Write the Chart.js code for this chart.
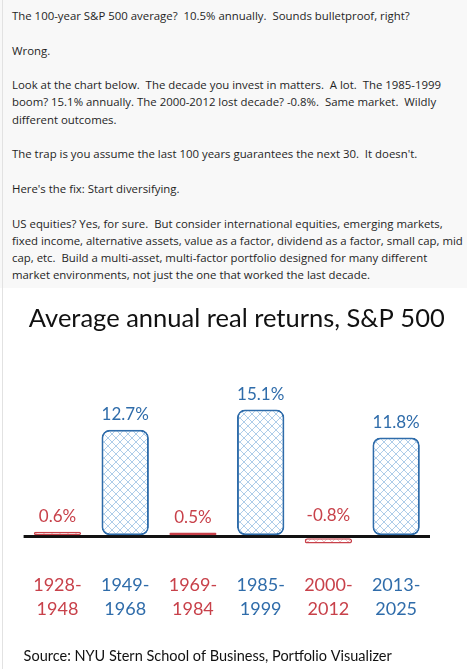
<!DOCTYPE html>
<html>
<head>
<meta charset="utf-8">
<script src="https://cdn.jsdelivr.net/npm/chart.js@4"></script>
<style>
  html, body { margin: 0; padding: 0; background: #fff; }
  body { width: 467px; height: 669px; overflow: hidden; position: relative; }
  .edge { position: absolute; left: 2px; top: 0; width: 1px; height: 669px; background: #e2e2e2; }
  .post {
    width: 467px; height: 288px; box-sizing: border-box; background: #f8f8f8;
    padding: 7px 0 0 12px;
    font: 11.4px/17.3px "Open Sans", sans-serif; color: #1f1f1f;
  }
  .post p { margin: 0 0 17.3px 0; }
  .wrap { position: absolute; left: 0; top: 290px; width: 467px; height: 379px; }
</style>
</head>
<body>
<div class="edge"></div>
<div class="post">
  <p>The 100-year S&amp;P 500 average?&nbsp; 10.5% annually.&nbsp; Sounds bulletproof, right?</p>
  <p>Wrong.</p>
  <p>Look at the chart below.&nbsp; The decade you invest in matters.&nbsp; A lot.&nbsp; The 1985-1999 boom? 15.1% annually. The 2000-2012 lost decade? -0.8%.&nbsp; Same market.&nbsp; Wildly different outcomes.</p>
  <p>The trap is you assume the last 100 years guarantees the next 30.&nbsp; It doesn't.</p>
  <p>Here's the fix: Start diversifying.</p>
  <p>US equities? Yes, for sure.&nbsp; But consider international equities, emerging markets, fixed income, alternative assets, value as a factor, dividend as a factor, small cap, mid cap, etc.&nbsp; Build a multi-asset, multi-factor portfolio designed for many different market environments, not just the one that worked the last decade.</p>
</div>
<div class="wrap"><canvas id="chart"></canvas></div>
<script>
const periods = [
  ["1928-", "1948"],
  ["1949-", "1968"],
  ["1969-", "1984"],
  ["1985-", "1999"],
  ["2000-", "2012"],
  ["2013-", "2025"],
];
const realReturns = [0.6, 12.7, 0.5, 15.1, -0.8, 11.8];

const chartTitle = "Average annual real returns, S&P 500";
const sourceNote = "Source: NYU Stern School of Business, Portfolio Visualizer";

const BLUE = "#2f6caa";
const RED = "#c8414a";
const FONT = "Lato, sans-serif";

// low-return eras are drawn in red
const colorFor = (value) => (value < 5 ? RED : BLUE);

const hatch = (lineColor) => {
  const c = document.createElement("canvas");
  c.width = 8;
  c.height = 8;
  const g = c.getContext("2d");
  g.fillStyle = "#ffffff";
  g.fillRect(0, 0, 8, 8);
  g.strokeStyle = lineColor;
  g.lineWidth = 1;
  g.beginPath();
  g.moveTo(0, 0);
  g.lineTo(8, 8);
  g.moveTo(8, 0);
  g.lineTo(0, 8);
  g.stroke();
  return document.createElement("canvas").getContext("2d").createPattern(c, "repeat");
};

const blueHatch = hatch("#aecde9");
const redHatch = hatch("#f0bfc2");

const valueLabels = {
  id: "valueLabels",
  afterDatasetsDraw(chart) {
    const { ctx } = chart;
    const meta = chart.getDatasetMeta(0);
    ctx.save();
    ctx.font = `17px ${FONT}`;
    ctx.textAlign = "center";
    ctx.textBaseline = "middle";
    meta.data.forEach((bar, i) => {
      const value = realReturns[i];
      const top = Math.min(bar.y, bar.base);
      ctx.fillStyle = colorFor(value);
      ctx.fillText(`${value.toFixed(1)}%`, bar.x, top - (value < 0 ? 23 : 15));
    });
    ctx.restore();
  },
};

new Chart(document.getElementById("chart"), {
  type: "bar",
  data: {
    labels: periods,
    datasets: [
      {
        data: realReturns,
        backgroundColor: realReturns.map((v) => (v < 5 ? redHatch : blueHatch)),
        borderColor: realReturns.map(colorFor),
        borderWidth: realReturns.map((v) => (v < 5 ? 1.5 : 2)),
        borderRadius: 8,
        borderSkipped: false,
        categoryPercentage: 0.7,
        barPercentage: 1,
      },
    ],
  },
  options: {
    responsive: true,
    maintainAspectRatio: false,
    animation: false,
    layout: { padding: { left: 23.6, right: 17, top: 0, bottom: 0 } },
    scales: {
      x: {
        grid: { display: false, drawTicks: false },
        border: { display: false },
        ticks: {
          padding: 10,
          color: (ctx) => colorFor(realReturns[ctx.index]),
          font: { family: FONT, size: 18, lineHeight: 1.3 },
        },
      },
      y: {
        position: "right",
        min: -3.2,
        max: 17.35,
        afterFit: (scale) => {
          scale.width = 20;
        },
        afterBuildTicks: (scale) => {
          scale.ticks = [{ value: 0 }];
        },
        border: { display: false },
        grid: {
          drawTicks: false,
          color: "#111111",
          lineWidth: 3,
        },
        ticks: { display: false },
      },
    },
    plugins: {
      legend: { display: false },
      tooltip: { enabled: false },
      title: {
        display: true,
        text: chartTitle,
        color: "#111111",
        font: { family: FONT, size: 25.5, weight: "normal", lineHeight: 1.2 },
        padding: { top: 13, bottom: 57 },
      },
      subtitle: {
        display: true,
        position: "bottom",
        align: "start",
        text: sourceNote,
        color: "#111111",
        font: { family: FONT, size: 14.5, weight: "normal", lineHeight: 1.2 },
        padding: { top: 17, bottom: 4 },
      },
    },
  },
  plugins: [valueLabels],
});
</script>
</body>
</html>
